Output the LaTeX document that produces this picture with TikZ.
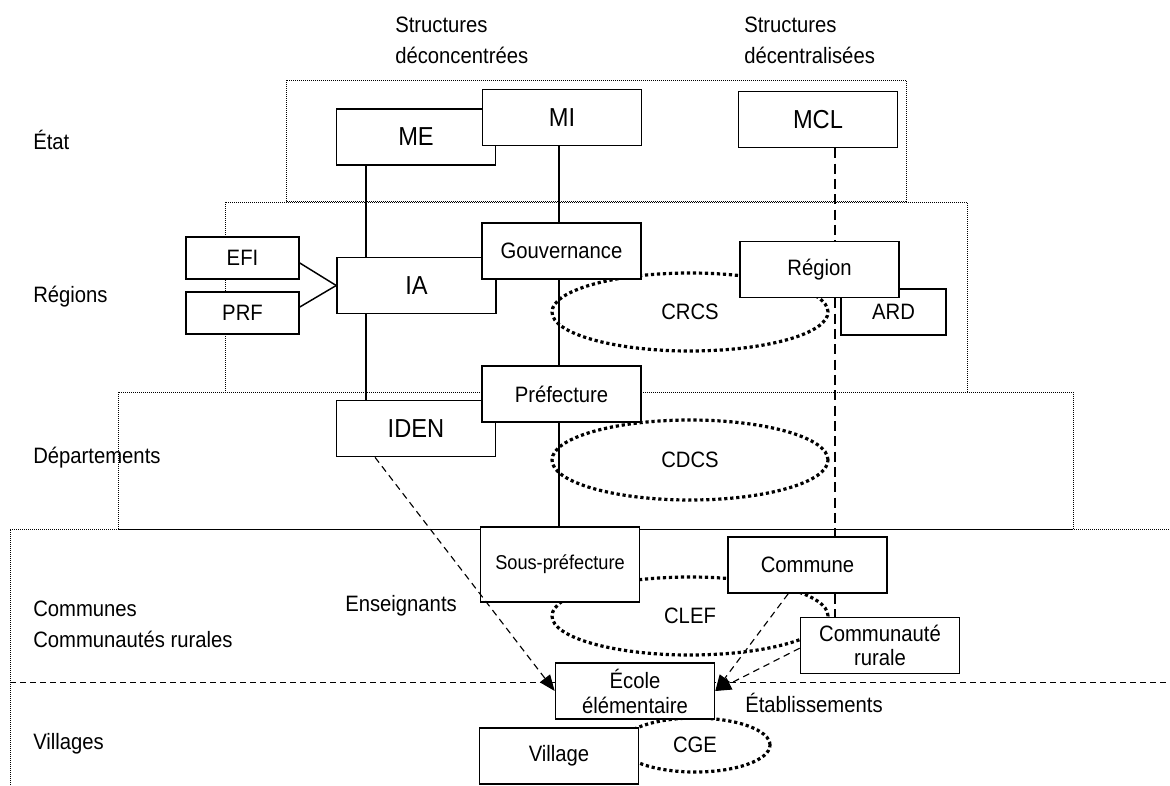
\documentclass[tikz,border=0pt]{standalone}
\usepackage{fontspec}
\setmainfont{Liberation Sans}[FakeStretch=0.91]
\usetikzlibrary{shapes.geometric,arrows.meta}

\begin{document}
\begin{tikzpicture}[x=0.75pt,y=-0.75pt,
    box/.style={draw,fill=white,line width=1.2pt,inner sep=0pt,minimum width=119.25pt,minimum height=42pt,align=center,font=\fontsize{16.7}{18.5}\selectfont},
    bigbox/.style={box,font=\fontsize{19.5}{22}\selectfont},
    smallbox/.style={box,minimum width=84.75pt,minimum height=31.5pt},
    council/.style={ellipse,draw,line width=2.4pt,dash pattern=on 2.4pt off 2.1pt,inner sep=0pt,font=\fontsize{16.7}{18.5}\selectfont},
    band/.style={line width=0.75pt,dash pattern=on 0.75pt off 0.75pt},
    rowlabel/.style={anchor=west,inner sep=0pt,align=left,font=\fontsize{16.7}{23}\selectfont},
    tutelle/.style={line width=1.1pt,dash pattern=on 7.5pt off 4pt},
    lien/.style={line width=0.85pt,dash pattern=on 5pt off 3.5pt,-{Triangle[length=12pt,width=9.5pt]}}]
    \useasboundingbox (0,0) rectangle (1170,785);

    % niveaux territoriaux
    \draw[band] (286,80) rectangle (906,201);
    \draw[band] (225,202) rectangle (967,392);
    \draw[band] (118,392) rectangle (1073,529);
    \draw[band] (10,785) -- (10,529) -- (1170,529);
    \draw[line width=0.6pt,dash pattern=on 4.5pt off 3pt] (10,682) -- (1170,682);

    \node[council, minimum width=207pt, minimum height=58.5pt] at (690,312)(CRCS){CRCS};
    \node[council, minimum width=207pt, minimum height=60pt] at (690,460)(CDCS){CDCS};
    \node[council, minimum width=207pt, minimum height=58.5pt] at (690,616)(CLEF){CLEF};
    \node[council, minimum width=112.5pt, minimum height=40.5pt] at (695,745)(CGE){CGE};

    \node[rowlabel] at (395,40.5)(deconcentrees){Structures\\déconcentrées};
    \node[rowlabel] at (744,40.5)(decentralisees){Structures\\décentralisées};
    \node[rowlabel] at (33,140)(etat){État};
    \node[rowlabel] at (33,297)(regions){Régions};
    \node[rowlabel] at (33,458)(departements){Départements};
    \node[rowlabel, font=\fontsize{16.7}{23.5}\selectfont] at (33,624)(communes){Communes\\Communautés rurales};
    \node[rowlabel] at (33,744)(villages){Villages};
    \node[rowlabel] at (345,606)(enseignants){Enseignants};
    \node[rowlabel] at (745,703)(etablissements){Établissements};

    % structures
    \node[bigbox] at (416,137)(ME){ME};
    \node[bigbox] at (562,117.5)(MI){MI};
    \node[bigbox] at (818,119.5)(MCL){MCL};
    \node[smallbox] at (242.5,258)(EFI){EFI};
    \node[smallbox] at (242.5,313)(PRF){PRF};
    \node[bigbox] at (416.5,285.5)(IA){IA};
    \node[box] at (561.5,251)(gouvernance){Gouvernance};
    \node[smallbox, minimum width=78.75pt, minimum height=34.5pt] at (893.5,312)(ARD){ARD};
    \node[box] at (819.5,269.5)(region){Région};
    \node[bigbox] at (416,428.5)(IDEN){IDEN};
    \node[box] at (561.5,394)(prefecture){Préfecture};
    \node[box, minimum height=56.25pt, font=\fontsize{15}{17}\selectfont] at (560,564.5)(sousprefecture){Sous-préfecture};
    \node[box] at (807.5,565)(commune){Commune};
    \node[box] at (880,645.5)(communaute){Communauté\\rurale};
    \node[box, font=\fontsize{16.7}{18.75}\selectfont] at (635,691)(ecole){École\\élémentaire};
    \node[box] at (559,756)(village){Village};

    \coordinate (deconc) at (366,0);
    \coordinate (gouv) at (559,0);
    \coordinate (decent) at (835,0);

    \path[line width=1.1pt]
        (ME.south -| deconc) edge (IA.north -| deconc)
        (IA.south -| deconc) edge (IDEN.north -| deconc)
        (MI.south -| gouv) edge (gouvernance.north -| gouv)
        (gouvernance.south -| gouv) edge (prefecture.north -| gouv)
        (prefecture.south -| gouv) edge (sousprefecture.north -| gouv)
        ([yshift=-3.75pt]EFI.east) edge (IA.west)
        ([yshift=4.5pt]PRF.east) edge (IA.west)
        ;
    \path[tutelle]
        (MCL.south -| decent) edge (region.north -| decent)
        (region.south -| decent) edge (commune.north -| decent)
        (commune.south -| decent) edge (communaute.north -| decent)
        ;
    \path[lien]
        ([xshift=-30.75pt]IDEN.south) edge (ecole.west)
        ([xshift=-14.5pt]commune.south) edge (ecole.east)
        ([yshift=-2pt]communaute.west) edge (ecole.east)
        ;
\end{tikzpicture}
\end{document}
